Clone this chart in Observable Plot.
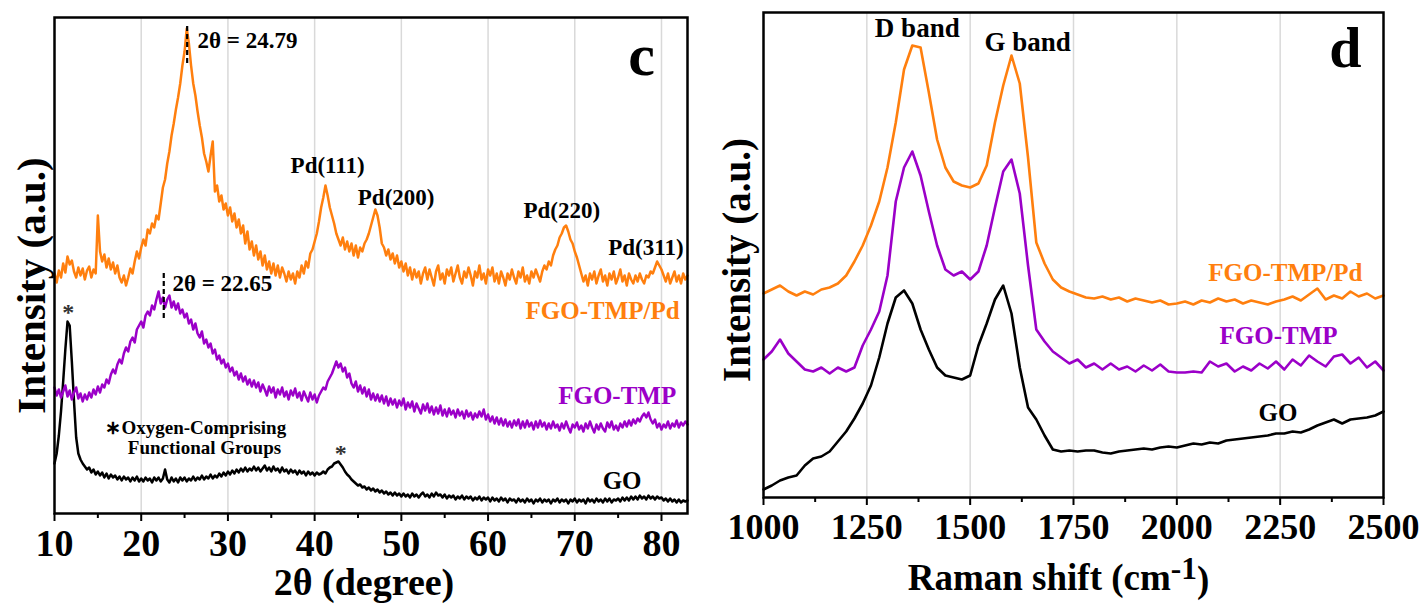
<!DOCTYPE html>
<html><head><meta charset="utf-8">
<script src="https://cdn.jsdelivr.net/npm/d3@7"></script>
<script src="https://cdn.jsdelivr.net/npm/@observablehq/plot@0.6"></script>
<style>
body{margin:0;background:#fff;}
#wrap{position:relative;width:1426px;height:605px;overflow:hidden;background:#fff;}
#left{position:absolute;left:0;top:0;}
#right{position:absolute;left:700px;top:0;}
</style></head><body><div id="wrap"><div id="left"></div><div id="right"></div></div>
<script>
// ---------- XRD (panel c): 2θ from 10 to 83, step 0.25 (one line = 2 degrees) ----------
const xrdStart = 10, xrdStep = 0.25;
const xrdPd = [
240,231,243,236, 250,241,257,249,
253,242,236,246, 238,245,234,243,
247,236,244,240, 298,262,252,259,
246,255,244,251, 240,248,236,231,
238,228,236,245, 240,252,262,255,
266,274,268,284, 280,290,286,298,
294,310,326,334, 350,362,378,390,
404,416,430,448, 462,485,470,448,
430,418,402,388, 376,360,352,342,
358,372,322,328, 312,318,304,310,
298,306,292,300, 286,294,280,288,
270,282,264,272, 258,268,254,262,
248,258,244,252, 240,250,238,248,
236,246,240,232, 242,234,240,230,
242,236,248,240, 252,246,260,264,
272,280,292,306, 316,328,318,306,
298,290,280,274, 268,276,264,272,
262,270,258,268, 256,266,262,270,
274,280,288,296, 304,298,286,270,
266,258,264,254, 260,250,258,246,
252,242,250,238, 246,234,244,236,
242,230,240,246, 234,244,236,228,
242,248,234,240, 230,244,238,246,
232,240,248,236, 230,242,236,246,
238,228,242,236, 248,234,240,230,
244,238,246,232, 240,230,242,236,
228,240,234,244, 236,230,242,236,
246,232,238,230, 242,236,244,238,
232,242,248,244, 252,248,258,264,
268,276,280,286, 288,282,274,270,
262,256,248,240, 232,238,228,240,
234,242,230,238, 244,232,238,228,
240,234,242,230, 236,244,232,238,
228,240,234,230, 238,232,240,234,
230,238,236,242, 240,246,252,248,
244,238,232,240, 230,236,242,232,
238,230,240,234, 238];
const xrdTMP = [
126,118,124,116, 122,128,117,123,
114,121,126,115, 120,112,119,114,
121,116,124,119, 127,121,129,126,
134,130,139,144, 140,149,154,150,
160,166,162,172, 176,171,184,188,
192,186,198,202, 198,208,204,214,
222,210,216,206, 214,218,206,212,
204,210,200,204, 196,200,190,194,
184,190,180,176, 182,170,174,166,
170,160,164,154, 158,150,154,146,
150,142,146,138, 142,134,140,132,
137,129,134,127, 133,126,131,122,
129,124,118,127, 121,126,116,124,
119,126,117,122, 114,123,118,125,
116,121,113,122, 117,112,121,114,
119,111,118,122, 126,124,132,136,
140,146,152,146, 150,142,146,136,
140,130,126,132, 122,128,120,126,
117,124,114,120, 113,119,112,118,
110,117,108,115, 109,114,106,113,
108,115,104,111, 106,112,102,110,
105,100,109,103, 110,101,107,99,
106,100,108,98, 104,97,105,99,
103,96,104,98, 102,95,103,97,
101,94,100,96, 102,97,104,94,
99,92,97,90, 96,89,95,88,
94,87,92,86, 93,88,94,85,
92,86,93,87, 91,84,92,86,
93,87,91,84, 90,85,92,86,
89,83,90,85, 92,86,81,89,
86,91,84,88, 82,90,85,92,
86,81,89,84, 90,85,82,91,
86,92,84,88, 83,90,86,92,
87,93,88,94, 90,95,92,97,
100,96,101,94, 90,94,86,90,
84,89,86,92, 85,90,87,93,
86,91,88,92, 89];
const xrdGO = [
50,60,78,102, 132,164,192,188,
152,112,76,60, 54,50,47,44,
46,41,44,39, 42,38,41,36,
40,35,39,36, 38,34,37,33,
37,34,36,32, 36,33,37,32,
35,32,36,33, 35,31,36,33,
36,32,35,44, 34,31,36,32,
35,31,36,33, 36,32,35,33,
37,33,36,34, 38,34,37,35,
39,35,38,36, 40,37,41,38,
42,39,43,40, 44,41,45,42,
46,42,45,43, 47,43,46,42,
45,48,43,46, 42,47,43,45,
41,46,42,44, 40,44,41,43,
39,43,40,42, 38,42,39,41,
38,41,39,40, 42,40,44,46,
47,50,51,52, 49,46,42,39,
37,34,32,30, 28,29,26,27,
24,26,23,25, 22,24,21,23,
20,22,19,21, 18,21,18,20,
17,20,17,19, 16,20,17,19,
16,19,21,17, 19,16,20,17,
21,18,19,16, 19,15,18,16,
18,14,17,15, 18,14,17,15,
17,13,16,14, 17,13,16,14,
16,12,16,13, 15,12,16,13,
15,11,15,13, 14,11,15,12,
14,11,15,12, 14,10,14,12,
15,11,14,12, 14,10,14,12,
15,11,14,12, 14,10,14,12,
15,11,14,12, 14,10,15,12,
14,11,15,12, 14,11,15,12,
15,11,14,13, 15,12,16,13,
16,13,17,14, 17,14,18,15,
17,14,18,15, 17,14,17,15,
16,13,15,12, 15,12,14,11,
14,11,13,12, 13];
const xrdMajorTicks = [10,20,30,40,50,60,70,80];
const xrdMinorTicks = [15,25,35,45,55,65,75];
const xrdSeriesLabels = [
  {text:"FGO-TMP/Pd", x:82.1, y:203, key:"pd"},
  {text:"FGO-TMP", x:81.7, y:118, key:"tmp"},
  {text:"GO", x:77.7, y:33, key:"go"}];
const xrdPeakLabels = [
  {text:"Pd(111)", x:41.5, y:348},
  {text:"Pd(200)", x:49.4, y:316},
  {text:"Pd(220)", x:68.5, y:303},
  {text:"Pd(311)", x:78.2, y:266}];
const xrdPeakMarks = [
  {text:"2θ = 24.79", at:25.3, x:26.5, y:473, y1:450, y2:488},
  {text:"2θ = 22.65", at:22.6, x:23.6, y:230, y1:195, y2:240}];
const xrdStars = [{x:11.6, y:201},{x:43.0, y:60}];
const xrdNote = [{text:"∗Oxygen-Comprising", x:26.3, y:86},{text:"Functional Groups", x:27.3, y:66}];
const xrdPanelLetter = [{text:"c", x:77.7, y:458}];

// ---------- Raman (panel d): 1000 to 2500 cm-1, step 20 ----------
const ramanStart = 1000, ramanStep = 20;
const ramanPd = [
204,208,212,206,202,206,203,208,210,214,
222,236,252,272,296,330,375,428,452,450,
405,358,330,316,312,310,314,332,375,412,
442,414,340,255,234,218,210,206,203,200,
199,201,198,200,196,199,197,195,197,193,
194,196,193,197,195,199,196,198,194,197,
195,193,196,198,201,197,203,209,198,202,
199,206,201,204,199,202];
const ramanTMP = [
138,146,158,144,136,128,126,130,124,130,
126,130,152,168,186,222,296,330,346,322,
286,252,228,222,226,218,226,252,290,326,
338,304,232,168,156,146,140,134,138,130,
134,128,134,128,131,126,132,127,133,126,
125,125,126,125,136,131,134,126,131,127,
134,129,136,128,138,132,142,136,131,141,
143,134,140,130,136,127];
const ramanGO = [
8,12,17,20,22,32,39,41,46,56,
66,79,94,112,140,174,200,207,194,168,
148,130,122,120,118,122,152,174,198,212,
184,130,90,78,62,48,46,47,46,47,
47,45,44,46,47,48,49,48,50,51,
50,52,54,53,55,54,57,58,59,60,
61,62,64,64,66,65,68,72,75,78,
74,78,79,80,82,86];
const ramanMajorTicks = [1000,1250,1500,1750,2000,2250,2500];
const ramanMinorTicks = [1125,1375,1625,1875,2125,2375];
const ramanSeriesLabels = [
  {text:"FGO-TMP/Pd", x:2449, y:225, key:"pd"},
  {text:"FGO-TMP", x:2389, y:162, key:"tmp"},
  {text:"GO", x:2292, y:85, key:"go"}];
const ramanBandLabels = [{text:"D band", x:1372, y:469},{text:"G band", x:1639, y:455}];
const ramanPanelLetter = [{text:"d", x:2408, y:449}];

// ---------- styling ----------
const COLORS = {pd:"#FF7F0E", tmp:"#9B00C8", go:"#000000"};
const FONT = '"Liberation Serif","Times New Roman",serif';
const style = {fontFamily: FONT, fontWeight: "bold", background: "white", overflow: "visible"};
const fmt = d3.format("d");

function rows(values, start, step, key) {
  return values.map((v, i) => ({x: start + i * step, y: v, key}));
}

// ---------- Panel c ----------
const xrdData = {pd: rows(xrdPd, xrdStart, xrdStep, "pd"), tmp: rows(xrdTMP, xrdStart, xrdStep, "tmp"), go: rows(xrdGO, xrdStart, xrdStep, "go")};
const left = Plot.plot({
  width: 700, height: 605,
  marginLeft: 54, marginRight: 13, marginTop: 17, marginBottom: 92,
  style,
  x: {domain: [10, 83]},
  y: {domain: [0, 496], axis: null},
  marks: [
    Plot.gridX(xrdMajorTicks.slice(1), {stroke: "#d9d9d9", strokeOpacity: 1, strokeWidth: 1.5}),
    Plot.line(xrdData.go, {x: "x", y: "y", stroke: COLORS.go, strokeWidth: 2.5}),
    Plot.line(xrdData.tmp, {x: "x", y: "y", stroke: COLORS.tmp, strokeWidth: 2.5}),
    Plot.line(xrdData.pd, {x: "x", y: "y", stroke: COLORS.pd, strokeWidth: 2.5}),
    Plot.ruleX(xrdPeakMarks, {x: "at", y1: "y1", y2: "y2", stroke: "black", strokeWidth: 2.2, strokeDasharray: "5,3"}),
    Plot.text(xrdPeakMarks, {x: "x", y: "y", text: "text", textAnchor: "start", fontSize: 23, fill: "black"}),
    Plot.text(xrdPeakLabels, {x: "x", y: "y", text: "text", fontSize: 23, fill: "black"}),
    Plot.text(xrdStars, {x: "x", y: "y", text: () => "*", fontSize: 24, fill: "#333"}),
    Plot.text(xrdNote, {x: "x", y: "y", text: "text", fontSize: 19, fill: "black"}),
    Plot.text(xrdSeriesLabels, {x: "x", y: "y", text: "text", textAnchor: "end", fontSize: 25, fill: d => COLORS[d.key]}),
    Plot.text(xrdPanelLetter, {x: "x", y: "y", text: "text", fontSize: 60, fill: "black"}),
    Plot.frame({stroke: "black", strokeWidth: 2.5}),
    Plot.axisX(xrdMajorTicks, {tickSize: 8, tickPadding: 8, fontSize: 38, strokeWidth: 2, tickFormat: fmt, label: null}),
    Plot.axisX(xrdMinorTicks, {tickSize: 5, tickFormat: () => "", strokeWidth: 2, label: null}),
    Plot.text(["2θ (degree)"], {frameAnchor: "bottom", lineAnchor: "middle", textAnchor: "middle", dx: -7, dy: 69, fontSize: 38, fill: "black"}),
    Plot.text(["Intensity (a.u.)"], {frameAnchor: "left", lineAnchor: "middle", textAnchor: "middle", rotate: -90, dx: -23, dy: 20, fontSize: 41, fill: "black"})
  ]
});
document.getElementById("left").append(left);

// ---------- Panel d ----------
const ramanData = {pd: rows(ramanPd, ramanStart, ramanStep, "pd"), tmp: rows(ramanTMP, ramanStart, ramanStep, "tmp"), go: rows(ramanGO, ramanStart, ramanStep, "go")};
const right = Plot.plot({
  width: 726, height: 605,
  marginLeft: 63, marginRight: 43, marginTop: 12, marginBottom: 108,
  style,
  x: {domain: [1000, 2500]},
  y: {domain: [0, 485], axis: null},
  marks: [
    Plot.gridX(ramanMajorTicks.slice(1, -1), {stroke: "#d9d9d9", strokeOpacity: 1, strokeWidth: 1.5}),
    Plot.line(ramanData.go, {x: "x", y: "y", stroke: COLORS.go, strokeWidth: 2.6}),
    Plot.line(ramanData.tmp, {x: "x", y: "y", stroke: COLORS.tmp, strokeWidth: 2.6}),
    Plot.line(ramanData.pd, {x: "x", y: "y", stroke: COLORS.pd, strokeWidth: 2.6}),
    Plot.text(ramanBandLabels, {x: "x", y: "y", text: "text", fontSize: 27, fill: "black"}),
    Plot.text(ramanSeriesLabels, {x: "x", y: "y", text: "text", textAnchor: "end", fontSize: 25, fill: d => COLORS[d.key]}),
    Plot.text(ramanPanelLetter, {x: "x", y: "y", text: "text", fontSize: 58, fill: "black"}),
    Plot.frame({stroke: "black", strokeWidth: 2.5}),
    Plot.axisX(ramanMajorTicks, {tickSize: 8, tickPadding: 8, fontSize: 36, strokeWidth: 2, tickFormat: fmt, label: null}),
    Plot.axisX(ramanMinorTicks, {tickSize: 5, tickFormat: () => "", strokeWidth: 2, label: null}),
    Plot.text(["Raman shift (cm-1)"], {frameAnchor: "bottom", lineAnchor: "middle", textAnchor: "middle", dx: -15, dy: 81, fontSize: 37, fill: "black"}),
    Plot.text(["Intensity (a.u.)"], {frameAnchor: "left", lineAnchor: "middle", textAnchor: "middle", rotate: -90, dx: -26, dy: 5, fontSize: 39, fill: "black"})
  ]
});
document.getElementById("right").append(right);

// superscript for the Raman axis title
d3.select(right).selectAll("text").filter(function () { return this.textContent === "Raman shift (cm-1)"; })
  .each(function () {
    const t = d3.select(this);
    t.text(null);
    t.append("tspan").text("Raman shift (cm");
    t.append("tspan").attr("dy", "-0.35em").attr("font-size", "0.85em").text("-1");
    t.append("tspan").attr("dy", "0.35em").text(")");
  });
</script>
</body></html>
